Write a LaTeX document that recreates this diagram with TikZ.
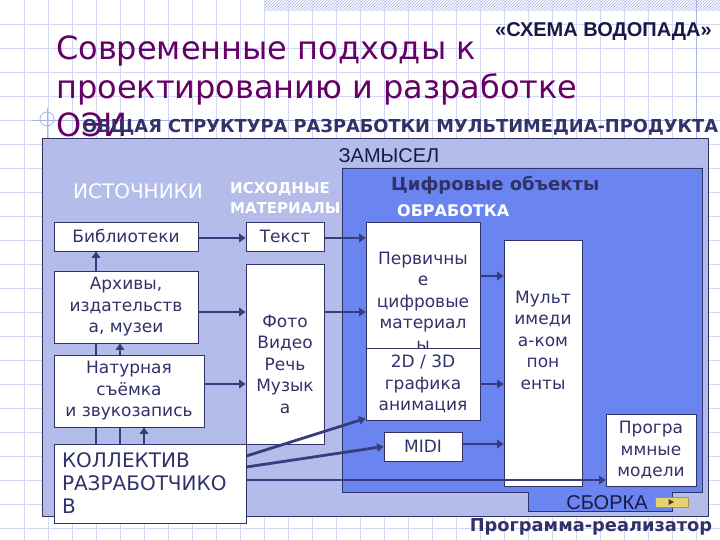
\documentclass[tikz,border=0pt]{standalone}
\usepackage{fontspec}
\setmainfont{DejaVu Sans}
\newfontfamily\libfont{Liberation Sans}
\usetikzlibrary{arrows.meta,patterns}
\definecolor{navy}{RGB}{48,50,105}
\definecolor{darknavy}{RGB}{25,25,70}
\definecolor{lpanel}{RGB}{180,188,234}
\definecolor{bpanel}{RGB}{106,132,240}
\definecolor{gridc}{RGB}{210,216,244}
\definecolor{gridd}{RGB}{165,180,228}
\definecolor{titlec}{RGB}{102,0,102}
\definecolor{arrc}{RGB}{55,60,125}
\definecolor{btnc}{RGB}{232,210,112}
\pgfdeclarelayer{bgl}
\pgfdeclarelayer{midl}
\pgfsetlayers{bgl,midl,main}
\begin{document}
\begin{tikzpicture}[x=1pt,y=-1pt,
 wbox/.style={draw=navy, line width=0.8pt, fill=white, text=navy, font=\fontsize{17}{21.5}\selectfont, align=center, inner sep=0pt},
 lbl/.style={text=navy, font=\fontsize{17}{21.5}\selectfont, align=center, inner sep=0pt, anchor=north},
 conn/.style={draw=arrc, line width=2.8pt, -{Triangle[length=6.5pt,width=8.5pt]}},
]
\useasboundingbox (0,0) rectangle (720,540);

% ---------- title & headings ----------
\node[anchor=base west, text=titlec, font=\fontsize{32}{38}\selectfont, inner sep=0pt] (t1) at (56,60) {Современные подходы к};
\node[anchor=base west, text=titlec, font=\fontsize{32}{38}\selectfont, inner sep=0pt] (t2) at (56,98.5) {проектированию и разработке};
\node[anchor=base west, text=titlec, font=\fontsize{32}{38}\selectfont, inner sep=0pt] (t3) at (56,137) {ОЭИ};
\node[anchor=center, text=darknavy, font=\libfont\bfseries\fontsize{20}{24}\selectfont, inner sep=0pt] (schema) at (603.5,32) {«СХЕМА ВОДОПАДА»};
\node[anchor=base west, text=navy, font=\bfseries\fontsize{17.8}{20}\selectfont, inner sep=0pt] (head) at (82,133) {ОБЩАЯ СТРУКТУРА РАЗРАБОТКИ МУЛЬТИМЕДИА-ПРОДУКТА};

% ---------- panel labels ----------
\node[text=darknavy, font=\libfont\fontsize{20}{24}\selectfont, inner sep=0pt] (zamysel) at (389,156) {ЗАМЫСЕЛ};
\node[text=white, font=\fontsize{20}{24}\selectfont, inner sep=0pt] (ist) at (138,191) {ИСТОЧНИКИ};
\node[text=white, font=\bfseries\fontsize{15}{20}\selectfont, align=left, anchor=west, inner sep=0pt] (ishod) at (230,198) {ИСХОДНЫЕ\\МАТЕРИАЛЫ};
\node[text=navy, font=\bfseries\fontsize{18}{22}\selectfont, anchor=west, inner sep=0pt] (cifr) at (391,185) {Цифровые объекты};
\node[text=white, font=\bfseries\fontsize{16}{20}\selectfont, anchor=west, inner sep=0pt] (obr) at (397,211) {ОБРАБОТКА};
\node[text=darknavy, font=\libfont\fontsize{20}{22}\selectfont, inner sep=0pt] (sborka) at (607,503) {СБОРКА};
\node[fill=btnc, draw=btnc!70!black, line width=0.4pt, minimum width=33pt, minimum height=10pt, inner sep=0pt] (btn) at (671.5,502) {};
\fill[black!70!btnc] (668.5,499) -- (674,502) -- (668.5,505) -- cycle;
\node[text=navy, font=\bfseries\fontsize{17.8}{20}\selectfont, inner sep=0pt] (real) at (591,527) {Программа-реализатор};

% ---------- boxes ----------
\node[wbox, minimum width=144pt, minimum height=29pt] (bib) at (126,236.5) {Библиотеки};
\node[wbox, minimum width=78pt, minimum height=29pt] (tekst) at (285,236.5) {Текст};
\node[wbox, minimum width=144pt, minimum height=72pt] (arch) at (126,307) {Архивы,\\издательств\\а, музеи};
\node[wbox, minimum width=78pt, minimum height=180pt,
  label={[lbl, yshift=-51pt]north:{Фото\\Видео\\Речь\\Музык\\а}}] (foto) at (285,354) {};
\node[wbox, minimum width=150pt, minimum height=72pt] (nat) at (129,391) {Натурная\\съёмка\\и звукозапись};
\node[wbox, minimum width=192pt, minimum height=79pt, text width=176pt, inner xsep=8pt, align=left,
  font=\fontsize{20}{23}\selectfont] (koll) at (150,483.5) {КОЛЛЕКТИВ\\РАЗРАБОТЧИКО\\В};
\node[wbox, minimum width=114pt, minimum height=126pt,
  label={[lbl, yshift=-30pt]north:{Первичны\\е\\цифровые\\материал\\ы}}] (perv) at (423,285) {};
\node[wbox, minimum width=114pt, minimum height=72pt] (g2d) at (423,384) {2D / 3D\\графика\\анимация};
\node[wbox, minimum width=78pt, minimum height=246pt,
  label={[lbl, yshift=-51pt]north:{Мульт\\имеди\\а-ком\\пон\\енты}}] (mult) at (543,363) {};
\node[wbox, minimum width=78pt, minimum height=29pt] (midi) at (423,446.5) {MIDI};
\node[wbox, minimum width=90pt, minimum height=72pt] (prog) at (651,450) {Програ\\ммные\\модели};

% ---------- connectors ----------
\draw[conn] (bib.east |- 0,238) -- (tekst.west |- 0,238);
\draw[conn] (tekst.east |- 0,238) -- (perv.west |- 0,238);
\draw[conn] (arch.east |- 0,312) -- (foto.west |- 0,312);
\draw[conn] (foto.east |- 0,312) -- (perv.west |- 0,312);
\draw[conn] (nat.east |- 0,384) -- (foto.west |- 0,384);
\draw[conn] (perv.east |- 0,276) -- (mult.west |- 0,276);
\draw[conn] (g2d.east |- 0,384) -- (mult.west |- 0,384);
\draw[conn] (midi.east |- 0,444) -- (mult.west |- 0,444);
\draw[conn] (koll.east |- 0,456) -- ([yshift=2pt]g2d.south west);
\draw[conn] (koll.east |- 0,467) -- (midi.west);
\draw[conn] (koll.east |- 0,480) -- (prog.west |- 0,480);

\begin{pgfonlayer}{midl}
\draw[conn] (koll.north -| 96,0) -- (bib.south -| 96,0);
\draw[conn] (koll.north -| 120,0) -- (arch.south -| 120,0);
\draw[conn] (koll.north -| 144,0) -- (nat.south -| 144,0);
\end{pgfonlayer}

% ---------- background ----------
\begin{pgfonlayer}{bgl}
\fill[white] (0,0) rectangle (720,540);
\fill[pattern=north east lines, pattern color=gridd] (264,0) rectangle (720,11);
\foreach \i in {24,48,...,720} \draw[gridc, line width=0.8pt] (\i,0) -- (\i,540);
\foreach \j in {24,48,...,528} \draw[gridc, line width=0.8pt] (0,\j) -- (720,\j);
\draw[gridd, line width=0.8pt] (696,0) -- (696,138);
\draw[gridd, line width=0.8pt] (32,120) -- (696,120);
\draw[gridd, line width=0.8pt] (47,108) -- (47,138);
\draw[gridd, line width=0.8pt] (47,119) circle[radius=7];
\draw[fill=lpanel, draw=navy, line width=0.8pt] (42,138) rectangle (708,516);
\draw[fill=bpanel, draw=navy, line width=0.8pt] (342,168) -- (702,168) -- (702,492) -- (672,492) -- (672,511) -- (528,511) -- (528,492) -- (342,492) -- cycle;
\end{pgfonlayer}
\end{tikzpicture}
\end{document}
